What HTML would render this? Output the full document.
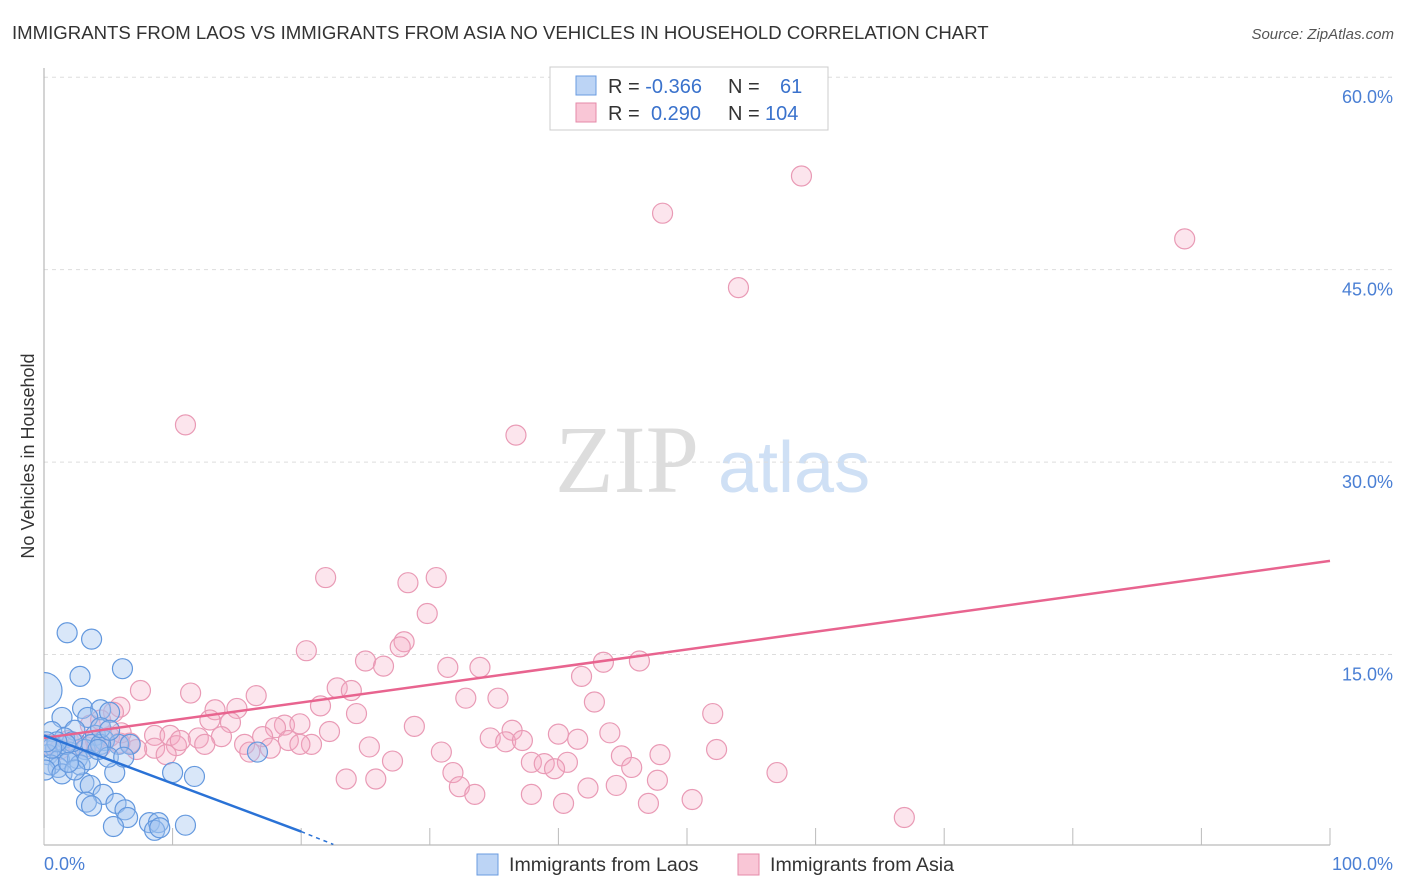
<!DOCTYPE html>
<html><head><meta charset="utf-8"><style>
body{margin:0;background:#fff;font-family:"Liberation Sans",sans-serif}
svg{display:block}
</style></head><body>
<svg id="c" width="1406" height="892">
<defs><clipPath id="plotclip"><rect x="44" y="60" width="1360" height="786"/></clipPath></defs>
<text x="12" y="39" font-size="18.6" fill="#333">IMMIGRANTS FROM LAOS VS IMMIGRANTS FROM ASIA NO VEHICLES IN HOUSEHOLD CORRELATION CHART</text>
<text x="1394" y="39" font-size="15" fill="#555" font-style="italic" text-anchor="end">Source: ZipAtlas.com</text>
<text x="555" y="492" font-size="96" fill="#ddd" font-family="Liberation Serif,serif">ZIP</text>
<text x="718" y="492" font-size="72" fill="#cfe0f5">atlas</text>
<text transform="translate(34,456) rotate(-90)" font-size="18" fill="#333" text-anchor="middle">No Vehicles in Household</text>
<g id="grid"></g><g id="pts" clip-path="url(#plotclip)"></g><g id="lines"></g>
<g>
<rect x="550" y="67" width="278" height="63" fill="#fff" stroke="#ccc"/>
<rect x="576" y="76" width="20" height="19" fill="#bcd4f5" stroke="#6a9be0"/>
<rect x="576" y="103" width="20" height="19" fill="#f9c6d6" stroke="#e58aa8"/>
<text x="608" y="93" font-size="20" fill="#333">R = <tspan fill="#3a72cc">-0.366</tspan><tspan x="728">N =</tspan><tspan x="780" fill="#3a72cc">61</tspan></text>
<text x="608" y="120" font-size="20" fill="#333">R = <tspan x="651" fill="#3a72cc">0.290</tspan><tspan x="728">N =</tspan><tspan x="765" fill="#3a72cc">104</tspan></text>
</g>
<g>
<rect x="477" y="854" width="21" height="21" fill="#bcd4f5" stroke="#6a9be0"/>
<text x="509" y="871" font-size="19.6" fill="#333">Immigrants from Laos</text>
<rect x="738" y="854" width="21" height="21" fill="#f9c6d6" stroke="#e58aa8"/>
<text x="770" y="871" font-size="19.6" fill="#333">Immigrants from Asia</text>
</g>
</svg>
<script>
const yTicks=[15,30,45,60];
const yTickLabels=["15.0%","30.0%","45.0%","60.0%"];
const xTicks=[0,10,20,30,40,50,60,70,80,90,100];
const laosX=[1.8,3.7,2.8,6.1,0,3.0,4.4,3.4,5.1,1.4,2.4,0.6,1.6,4.0,4.7,5.8,6.7,0.9,2.0,3.2,0.3,1.2,2.6,3.7,4.4,1.1,0.5,0.1,1.4,5.5,10.0,11.7,16.6,3.1,3.6,4.6,3.3,3.7,5.6,6.3,6.5,5.4,8.2,8.9,8.6,11.0,4.4,2.2,2.8,1.7,1.0,5.0,5.1,6.2,3.4,4.2,2.4,1.9,0.6,0.2,9.0];
const laosY=[16.7,16.2,13.3,13.9,12.2,10.8,10.7,10.1,10.5,10.1,9.1,9.0,8.5,8.7,8.3,8.0,8.0,7.7,7.4,7.6,7.2,6.8,6.9,8.0,8.0,6.2,6.4,6.0,5.7,5.8,5.8,5.5,7.4,5.0,4.8,4.1,3.5,3.2,3.4,2.9,2.3,1.6,1.9,1.9,1.3,1.7,9.3,8.2,6.4,8.0,8.2,7.0,9.1,7.0,6.8,7.6,6.0,6.6,7.7,8.2,1.5];
const asiaX=[11.0,36.7,48.1,58.9,88.7,54.0,21.9,28.3,30.5,29.8,28.0,27.7,20.4,25.0,26.4,31.4,33.9,43.5,46.3,41.8,7.5,11.4,16.5,22.8,23.9,35.3,32.8,42.8,21.5,24.3,52.0,5.9,5.4,13.3,15.0,12.9,14.5,18.7,19.9,18.0,28.8,36.4,40.0,44.0,8.6,9.8,13.8,17.0,12.0,19.0,22.2,30.9,25.3,17.6,20.8,8.6,10.3,7.2,3.3,4.0,4.4,6.7,34.7,35.9,44.9,52.3,37.9,38.9,40.7,39.7,27.1,45.7,47.7,57.0,31.8,23.5,25.8,32.3,33.5,42.3,44.5,37.9,40.4,47.0,50.4,66.9,1.9,2.6,1.2,0.3,5.1,5.9,15.6,19.9,12.5,10.6,3.6,4.4,47.9,37.2,41.5,16.0,9.5,6.0];
const asiaY=[32.9,32.1,49.4,52.3,47.4,43.6,21.0,20.6,21.0,18.2,16.0,15.6,15.3,14.5,14.1,14.0,14.0,14.4,14.5,13.3,12.2,12.0,11.8,12.4,12.2,11.6,11.6,11.3,11.0,10.4,10.4,10.9,10.5,10.7,10.8,9.9,9.7,9.5,9.6,9.3,9.4,9.1,8.8,8.9,8.7,8.7,8.6,8.6,8.5,8.3,9.0,7.4,7.8,7.7,8.0,7.7,7.9,7.6,7.8,8.3,7.8,8.1,8.5,8.2,7.1,7.6,6.6,6.5,6.6,6.1,6.7,6.2,5.2,5.8,5.8,5.3,5.3,4.7,4.1,4.6,4.8,4.1,3.4,3.4,3.7,2.3,8.3,8.0,7.6,8.0,8.6,8.1,8.0,8.0,8.0,8.3,9.5,9.9,7.2,8.3,8.4,7.4,7.2,8.9];
const laosTrend=[[0,8.7],[20,1.2],[22.5,0.2]];
const asiaTrend=[[0,8.5],[100,22.3]];
const X=v=>44+v*12.86, Y=v=>847-v*12.83;
const NS="http://www.w3.org/2000/svg";
function mk(t,a,p){const e=document.createElementNS(NS,t);for(const k in a)e.setAttribute(k,a[k]);p.appendChild(e);return e;}
const grid=document.getElementById('grid');
yTicks.forEach((t,i)=>{
 const l=mk('line',{x1:44,x2:1392,y1:Y(t),y2:Y(t),stroke:'#ddd','stroke-dasharray':'4,4'},grid);
 
 
 const tx=mk('text',{x:1393,y:Y(t)+26,'font-size':18,fill:'#4a7fd4','text-anchor':'end'},grid);
 tx.textContent=yTickLabels[i];
 
 
});
const ax=mk('line',{x1:44,x2:1330,y1:845,y2:845,stroke:'#aaa'},grid);


const ay=mk('line',{x1:44,x2:44,y1:68,y2:845,stroke:'#aaa'},grid);


xTicks.forEach(t=>{const l=mk('line',{x1:X(t),x2:X(t),y1:828,y2:845,stroke:'#bbb'},grid);
 
 });
[["0.0%",44,'start'],["100.0%",1393,'end']].forEach(a=>{const t=mk('text',{x:a[1],y:870,'font-size':18,fill:'#4a7fd4','text-anchor':a[2]},grid);t.textContent=a[0];
 
 });
const pts=document.getElementById('pts');
asiaX.forEach((x,i)=>{const c=mk('circle',{cx:X(x),cy:Y(asiaY[i]),r:10,fill:'rgba(244,170,195,0.3)',stroke:'#e99ab5','stroke-width':1.2},pts);
 
 });
laosX.forEach((x,i)=>{const c=mk('circle',{cx:X(x),cy:Y(laosY[i]),r:i==4?18:10,fill:'rgba(160,196,240,0.4)',stroke:'#6398de','stroke-width':1.2},pts);
 
 });
const lines=document.getElementById('lines');
const p=mk('line',{x1:X(asiaTrend[0][0]),y1:Y(asiaTrend[0][1]),x2:X(asiaTrend[1][0]),y2:Y(asiaTrend[1][1]),stroke:'#e8648f','stroke-width':2.5},lines);


const b=mk('line',{x1:X(laosTrend[0][0]),y1:Y(laosTrend[0][1]),x2:X(laosTrend[1][0]),y2:Y(laosTrend[1][1]),stroke:'#2a72d6','stroke-width':2.5},lines);


const bd=mk('line',{x1:X(laosTrend[1][0]),y1:Y(laosTrend[1][1]),x2:X(laosTrend[2][0]),y2:Y(laosTrend[2][1]),stroke:'#2a72d6','stroke-width':1.5,'stroke-dasharray':'4,4'},lines);


</script>
</body></html>
